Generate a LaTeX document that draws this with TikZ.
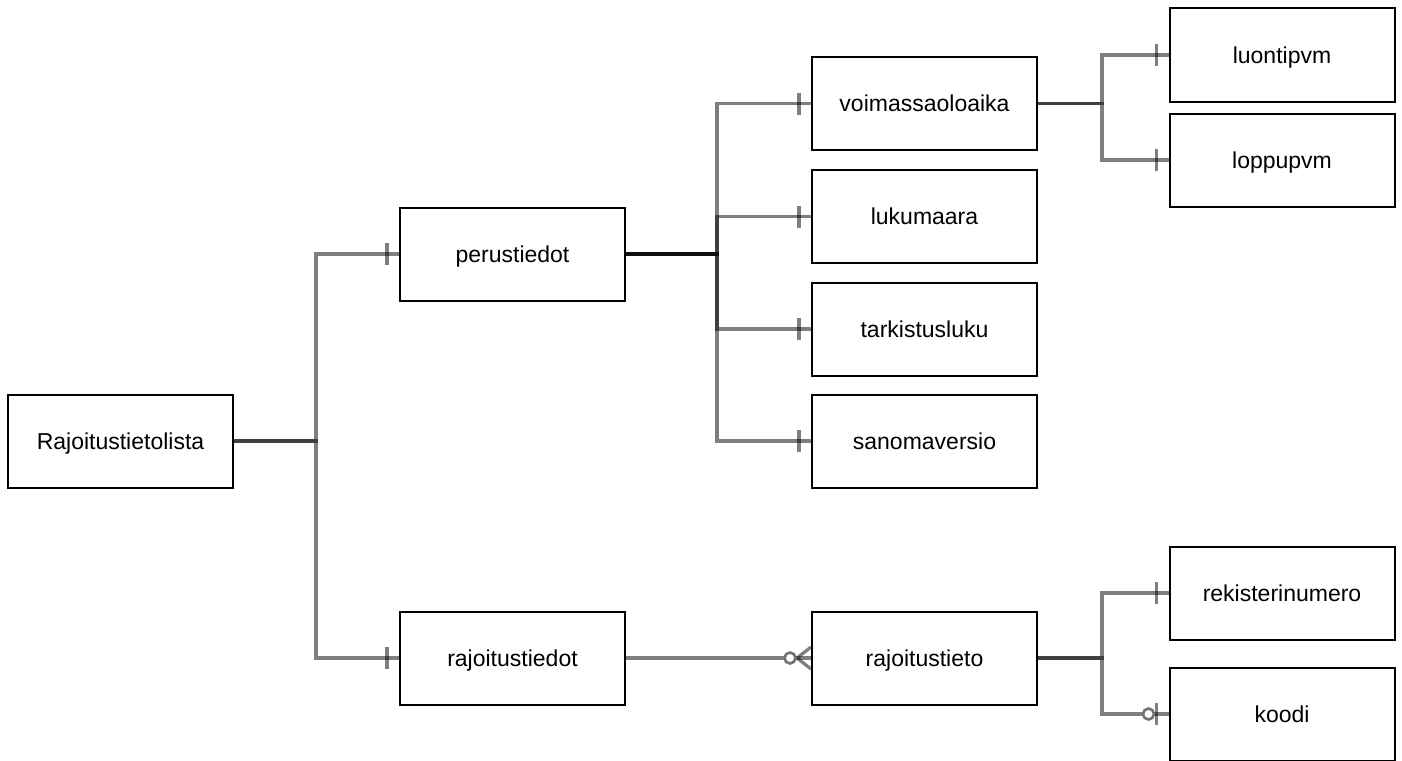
\documentclass[tikz,border=0pt]{standalone}
\usepackage{fontspec}
\setmainfont{Liberation Sans}
\tikzset{
  ent/.style={draw, line width=2pt, minimum width=225pt, minimum height=93pt,
    inner sep=0pt, text height=16.5pt, text depth=0pt,
    font=\fontsize{23}{27}\selectfont},
  conn/.style={draw=black, draw opacity=0.5, line width=3.2pt},
  one/.pic={\draw[conn] (0,-11) -- (0,11);},
  zero/.pic={\draw[line width=2.6pt, draw=black!55, fill=white] (0,0) circle (5.5);},
  many/.pic={\draw[conn] (0,0) -- (14,-11) (0,0) -- (14,11);}
}
\begin{document}
\begin{tikzpicture}[x=1pt,y=-1pt]
\useasboundingbox (0,0) rectangle (1402,760);

% entities
\node[ent] (lista) at (120.5,441) {Rajoitustietolista};
\node[ent] (perus) at (512.5,254) {perustiedot};
\node[ent] (rajt) at (512.5,658) {rajoitustiedot};
\node[ent] (voim) at (924.5,103.5) {voimassaoloaika};
\node[ent] (luku) at (924.5,216.5) {lukumaara};
\node[ent] (tark) at (924.5,329) {tarkistusluku};
\node[ent] (sano) at (924.5,441) {sanomaversio};
\node[ent] (luon) at (1282,55) {luontipvm};
\node[ent] (lopp) at (1282,160) {loppupvm};
\node[ent] (rajo) at (924.5,658) {rajoitustieto};
\node[ent] (reki) at (1282,593) {rekisterinumero};
\node[ent] (kood) at (1282,714) {koodi};

% junctions
\coordinate (j1) at (316,441);
\coordinate (j2) at (717,254);
\coordinate (j3) at (1102,103.5);
\coordinate (j4) at (1102,658);

% relations
\draw[conn] (lista.east) -- (j1) |- (perus.west);
\draw[conn] (lista.east) -- (j1) |- (rajt.west);
\foreach \c in {voim,luku,tark,sano}
  \draw[conn] (perus.east) -- (j2) |- (\c.west);
\foreach \c in {luon,lopp}
  \draw[conn] (voim.east) -- (j3) |- (\c.west);
\foreach \c in {reki,kood}
  \draw[conn] (rajo.east) -- (j4) |- (\c.west);
\draw[conn] (rajt.east) -- (rajo.west);

% ends
\foreach \c in {perus,rajt,voim,luku,tark,sano,luon,lopp,reki,kood}
  \pic at ([xshift=-12pt]\c.west) {one};
\pic at ([xshift=-14pt]rajo.west) {many};
\pic at ([xshift=-21pt]rajo.west) {zero};
\pic at ([xshift=-20pt]kood.west) {zero};

\end{tikzpicture}
\end{document}
